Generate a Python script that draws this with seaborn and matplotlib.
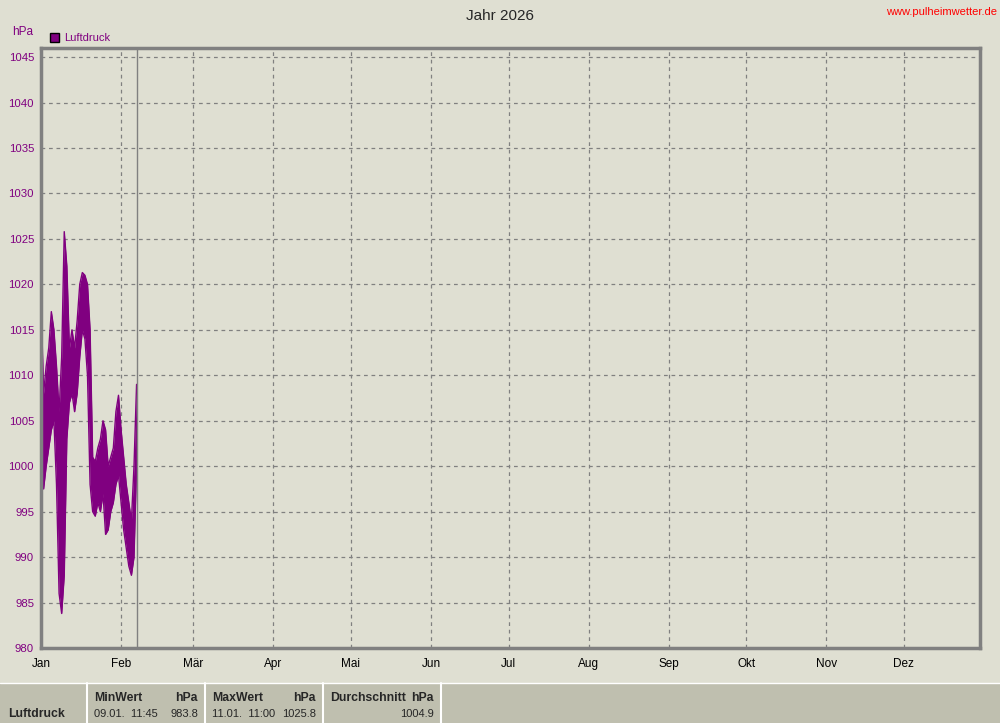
import numpy as np
import pandas as pd
import matplotlib
matplotlib.use("Agg")
import matplotlib.pyplot as plt
import seaborn as sns

# Tageswerte Luftdruck 2026 (Tag des Jahres, Minimum, Maximum) in hPa
days = list(range(38))
p_min = [998, 997.5, 1000, 1002, 1004, 1005, 998, 986, 983.8, 988,
         1003, 1007, 1008, 1006, 1008, 1012, 1015, 1014, 1010, 998,
         995, 994.5, 996, 995, 997, 992.5, 993, 995, 996, 998,
         999, 996, 993, 991, 989, 988, 990, 1000]
p_max = [1018.5, 1008, 1011, 1013, 1017, 1015, 1011, 1006, 1012, 1025.8,
         1022, 1013, 1015, 1013, 1016, 1020, 1021.3, 1021, 1020, 1015,
         1001, 1000.5, 1002, 1003, 1005, 1004, 1000, 1001, 1002, 1006,
         1007.8, 1004, 1001, 998, 996, 994, 1000, 1009]
today = 37.3

months = ['Jan', 'Feb', 'Mär', 'Apr', 'Mai', 'Jun', 'Jul', 'Aug', 'Sep', 'Okt', 'Nov', 'Dez']
month_start = [0, 31, 59, 90, 120, 151, 181, 212, 243, 273, 304, 334]
y_ticks = list(range(980, 1046, 5))

stats_title = 'Luftdruck'
stats_min = ('09.01.  11:45', '983.8')
stats_max = ('11.01.  11:00', '1025.8')
stats_avg = '1004.9'

bg = '#DFDFD2'
purple = '#800080'
grey = '#808080'

sns.set_style('white')
plt.rcParams['font.family'] = ['Liberation Sans', 'DejaVu Sans']

df = pd.DataFrame({'tag': days, 'min': p_min, 'max': p_max})

fig = plt.figure(figsize=(10, 7.23), dpi=100, facecolor=bg)
ax = fig.add_axes([0.041, 0.1037, 0.939, 0.8299], facecolor=bg)

ax.fill_between(df['tag'], df['min'], df['max'], color=purple, lw=0)
sns.lineplot(data=df, x='tag', y='min', ax=ax, color=purple, lw=1)
sns.lineplot(data=df, x='tag', y='max', ax=ax, color=purple, lw=1)

ax.set_xlim(0, 363.5)
ax.set_ylim(980, 1046)
ax.set_xticks(month_start)
ax.set_xticklabels(months, fontsize=8.5, color='black')
ax.set_yticks(y_ticks)
ax.set_yticklabels([str(v) for v in y_ticks], fontsize=8.2, color=purple)
ax.set_xlabel('')
ax.set_ylabel('')
ax.grid(True, color=grey, ls=(0, (3, 3)), lw=0.9)
ax.set_axisbelow(True)
ax.axvline(today, color=grey, lw=1)
ax.tick_params(axis='y', direction='out', length=4, width=1, color=grey, pad=1)
ax.tick_params(axis='x', direction='out', length=4, width=1, color=grey, pad=3)
for s in ax.spines.values():
    s.set_color(grey)
    s.set_linewidth(2.5)

fig.text(0.5, 0.978, 'Jahr 2026', ha='center', va='center', fontsize=11)
fig.text(0.997, 0.983, 'www.pulheimwetter.de', ha='right', va='center', fontsize=8, color='red')
fig.text(0.012, 0.956, 'hPa', ha='left', va='center', fontsize=8.5, color=purple)
fig.patches.append(plt.Rectangle((0.050, 0.942), 0.009, 0.0125, transform=fig.transFigure,
                                 facecolor=purple, edgecolor='black', lw=1))
fig.text(0.064, 0.948, 'Luftdruck', ha='left', va='center', fontsize=8, color=purple)

# Statistikleiste unten
fig.patches.append(plt.Rectangle((0, 0), 1, 40 / 723, transform=fig.transFigure,
                                 facecolor='#BFBFAF', edgecolor='none'))
fig.add_artist(plt.Line2D([0, 1], [40 / 723, 40 / 723], transform=fig.transFigure, color='white', lw=1))
for xs in [0.087, 0.205, 0.323, 0.441]:
    fig.add_artist(plt.Line2D([xs, xs], [0, 40 / 723], transform=fig.transFigure, color='white', lw=1.5))

y_hd = 1 - 698 / 723
y_val = 1 - 714 / 723
bold = dict(va='center', fontsize=8.8, fontweight='bold')
fig.text(0.008, y_val, stats_title, ha='left', **bold)
fig.text(0.094, y_hd, 'MinWert', ha='left', **bold)
fig.text(0.198, y_hd, 'hPa', ha='right', **bold)
fig.text(0.094, y_val, stats_min[0], ha='left', va='center', fontsize=8)
fig.text(0.198, y_val, stats_min[1], ha='right', va='center', fontsize=8)
fig.text(0.212, y_hd, 'MaxWert', ha='left', **bold)
fig.text(0.316, y_hd, 'hPa', ha='right', **bold)
fig.text(0.212, y_val, stats_max[0], ha='left', va='center', fontsize=8)
fig.text(0.316, y_val, stats_max[1], ha='right', va='center', fontsize=8)
fig.text(0.330, y_hd, 'Durchschnitt', ha='left', **bold)
fig.text(0.434, y_hd, 'hPa', ha='right', **bold)
fig.text(0.434, y_val, stats_avg, ha='right', va='center', fontsize=8)

fig.savefig('out.png', dpi=100, facecolor=bg)
